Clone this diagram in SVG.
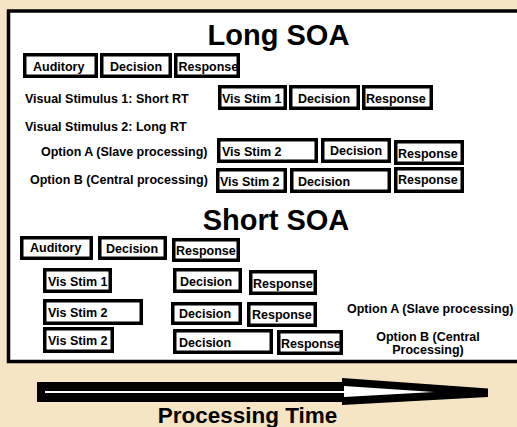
<svg xmlns="http://www.w3.org/2000/svg" width="517" height="427" viewBox="0 0 517 427">
<style>
.bg{fill:#f6e5c5}
.frame{fill:#fff;stroke:#000;stroke-width:3.5}
.box rect{fill:#fff;stroke:#000;stroke-width:3.5}
.t{font-family:"Liberation Sans",Arial,sans-serif;font-weight:bold;font-size:12.5px;fill:#000}
.title{font-family:"Liberation Sans",Arial,sans-serif;font-weight:bold;font-size:29px;fill:#000;text-anchor:middle}
.axis{font-family:"Liberation Sans",Arial,sans-serif;font-weight:bold;font-size:22.5px;fill:#000;text-anchor:middle}
</style>
<rect class="bg" x="0" y="0" width="517" height="427"/>
<rect class="frame" x="8.5" y="11" width="515" height="350.5"/>

<text class="title" x="278.5" y="45">Long SOA</text>
<g id="long-auditory" class="box"><rect x="24.75" y="54.75" width="71.5" height="21.5"/><text class="t" x="33" y="70.5">Auditory</text></g>
<g id="long-decision" class="box"><rect x="101.75" y="54.75" width="68.5" height="21.5"/><text class="t" x="110" y="70.5">Decision</text></g>
<g id="long-response" class="box"><rect x="175.75" y="54.75" width="62.5" height="21.5"/><text class="t" x="178.5" y="71">Response</text></g>

<text class="t" x="25" y="103">Visual Stimulus 1: Short RT</text>
<g id="long-vs1" class="box"><rect x="219.75" y="86.75" width="65.5" height="21.5"/><text class="t" x="222" y="102.5">Vis Stim 1</text></g>
<g id="long-vs1-decision" class="box"><rect x="290.75" y="86.75" width="67.5" height="21.5"/><text class="t" x="298" y="102.5">Decision</text></g>
<g id="long-vs1-response" class="box"><rect x="363.75" y="86.75" width="67.5" height="21.5"/><text class="t" x="366" y="103">Response</text></g>

<text class="t" x="25" y="131">Visual Stimulus 2: Long RT</text>

<text class="t" x="41" y="156">Option A (Slave processing)</text>
<g id="long-a-vs2" class="box"><rect x="218.75" y="139.75" width="97.5" height="21.5"/><text class="t" x="222" y="156">Vis Stim 2</text></g>
<g id="long-a-decision" class="box"><rect x="322.75" y="139.75" width="66.5" height="21.5"/><text class="t" x="330" y="155">Decision</text></g>
<g id="long-a-response" class="box"><rect x="395.75" y="141.75" width="66.5" height="21.5"/><text class="t" x="398" y="158">Response</text></g>

<text class="t" x="30" y="184">Option B (Central processing)</text>
<g id="long-b-vs2" class="box"><rect x="217.75" y="169.75" width="67.5" height="21.5"/><text class="t" x="220" y="185.5">Vis Stim 2</text></g>
<g id="long-b-decision" class="box"><rect x="291.75" y="169.75" width="97.5" height="21.5"/><text class="t" x="298" y="185.5">Decision</text></g>
<g id="long-b-response" class="box"><rect x="395.75" y="168.75" width="66.5" height="22.5"/><text class="t" x="398" y="184">Response</text></g>

<text class="title" x="276" y="230">Short SOA</text>
<g id="short-auditory" class="box"><rect x="21.75" y="237.75" width="69.5" height="20.5"/><text class="t" x="30" y="252">Auditory</text></g>
<g id="short-decision" class="box"><rect x="99.75" y="237.75" width="65.5" height="20.5"/><text class="t" x="106" y="253">Decision</text></g>
<g id="short-response" class="box"><rect x="173.75" y="239.75" width="64.5" height="20.5"/><text class="t" x="176" y="255">Response</text></g>

<g id="short-vs1" class="box"><rect x="44.75" y="269.75" width="65.5" height="21.5"/><text class="t" x="48" y="285.5">Vis Stim 1</text></g>
<g id="short-vs1-decision" class="box"><rect x="174.75" y="269.75" width="65.5" height="21.5"/><text class="t" x="180" y="285.5">Decision</text></g>
<g id="short-vs1-response" class="box"><rect x="250.75" y="271.75" width="64.5" height="21.5"/><text class="t" x="253" y="287.5">Response</text></g>

<g id="short-a-vs2" class="box"><rect x="44.75" y="300.75" width="96.5" height="22.5"/><text class="t" x="48" y="316.5">Vis Stim 2</text></g>
<g id="short-a-decision" class="box"><rect x="172.75" y="303.75" width="67.5" height="19.5"/><text class="t" x="179" y="318">Decision</text></g>
<g id="short-a-response" class="box"><rect x="248.75" y="303.75" width="66.5" height="21.5"/><text class="t" x="252" y="319">Response</text></g>
<text class="t" x="347" y="313">Option A (Slave processing)</text>

<g id="short-b-vs2" class="box"><rect x="44.75" y="328.75" width="67.5" height="22.5"/><text class="t" x="48" y="344.5">Vis Stim 2</text></g>
<g id="short-b-decision" class="box"><rect x="174.75" y="330.75" width="96.5" height="21.5"/><text class="t" x="179" y="346.5">Decision</text></g>
<g id="short-b-response" class="box"><rect x="278.75" y="331.75" width="62.5" height="21.5"/><text class="t" x="281" y="347.5">Response</text></g>
<text class="t" x="428" y="341" text-anchor="middle">Option B (Central</text>
<text class="t" x="428" y="354" text-anchor="middle">Processing)</text>

<g id="time-arrow">
<polygon points="37,382 342,382 342,378 488,388.5 488,397 342,405 342,402 37,402" fill="#000"/>
<polygon points="45,391 344,391 344,386 434,392 344,397 344,393 45,393" fill="#fff"/>
</g>
<text class="axis" x="247.5" y="423">Processing Time</text>
</svg>
